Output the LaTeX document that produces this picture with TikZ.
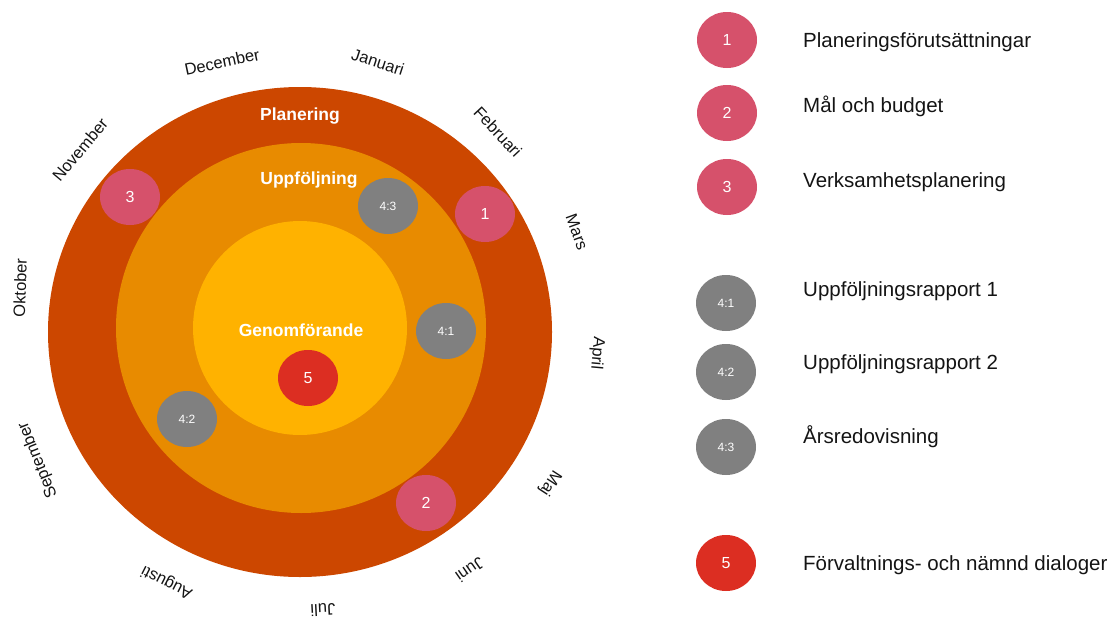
\documentclass[tikz,border=0pt]{standalone}
\usepackage{fontspec}
\setmainfont{Liberation Sans}
\usetikzlibrary{shapes.geometric}
\definecolor{cOuter}{RGB}{204,71,0}
\definecolor{cMid}{RGB}{232,139,0}
\definecolor{cInner}{RGB}{255,178,0}
\definecolor{cPink}{RGB}{214,81,107}
\definecolor{cGray}{RGB}{128,128,128}
\definecolor{cRed}{RGB}{220,46,34}
\definecolor{cText}{RGB}{20,20,20}
\tikzset{
  month/.style={inner sep=0pt, text=cText, font=\fontsize{16.5}{18}\selectfont},
  ring/.style={inner sep=0pt, text=white, font=\bfseries\fontsize{17.5}{20}\selectfont},
  dot/.style={ellipse, draw=none, minimum width=60pt, minimum height=56pt, inner sep=0pt, text=white, font=\fontsize{16}{18}\selectfont},
  pinkdot/.style={dot, fill=cPink},
  graydot/.style={dot, fill=cGray, font=\fontsize{12}{14}\selectfont},
  reddot/.style={dot, fill=cRed},
  legtext/.style={anchor=west, inner sep=0pt, text=cText, font=\fontsize{20.5}{24}\selectfont}
}
\begin{document}
\begin{tikzpicture}[x=1pt,y=-1pt]
\useasboundingbox (0,0) rectangle (1111,621);
% rings
\fill[cOuter] (300,332) ellipse [x radius=252, y radius=245];
\fill[cMid] (301,328) circle [radius=185];
\fill[cInner] (300,328) circle [radius=107];
\node[ring] (planering) at (300,116) {Planering};
\node[ring] (uppf) at (309,180) {Uppföljning};
\node[ring] (genom) at (301,330) {Genomförande};
% months
\node[month, rotate=12] (dec) at (222,62) {December};
\node[month, rotate=-18] (jan) at (378,62) {Januari};
\node[month, rotate=-47] (feb) at (498,132) {Februari};
\node[month, rotate=-70] (mar) at (577,232) {Mars};
\node[month, rotate=-95] (apr) at (597,353) {April};
\node[month, rotate=-123] (maj) at (550,483) {Maj};
\node[month, rotate=-145] (jun) at (470,570) {Juni};
\node[month, rotate=-177] (jul) at (323,610) {Juli};
\node[month, rotate=153] (aug) at (167,582) {Augusti};
\node[month, rotate=112] (sep) at (38,460) {September};
\node[month, rotate=88] (okt) at (20,288) {Oktober};
\node[month, rotate=50] (nov) at (80,150) {November};
% markers on wheel
\node[pinkdot] (m3) at (130,197) {3};
\node[pinkdot] (m1) at (485,214) {1};
\node[pinkdot] (m2) at (426,503) {2};
\node[graydot] (m43) at (388,206) {4:3};
\node[graydot] (m41) at (446,331) {4:1};
\node[graydot] (m42) at (187,419) {4:2};
\node[reddot] (m5) at (308,378) {5};
% legend
\node[pinkdot] (l1) at (727,40) {1};
\node[pinkdot] (l2) at (727,113) {2};
\node[pinkdot] (l3) at (727,187) {3};
\node[graydot] (l41) at (726,303) {4:1};
\node[graydot] (l42) at (726,372) {4:2};
\node[graydot] (l43) at (726,447) {4:3};
\node[reddot] (l5) at (726,563) {5};
\node[legtext] (t1) at (803,42) {Planeringsförutsättningar};
\node[legtext] (t2) at (803,106) {Mål och budget};
\node[legtext] (t3) at (803,182) {Verksamhetsplanering};
\node[legtext] (t41) at (803,291) {Uppföljningsrapport 1};
\node[legtext] (t42) at (803,364) {Uppföljningsrapport 2};
\node[legtext] (t43) at (803,437) {Årsredovisning};
\node[legtext] (t5) at (803,565) {Förvaltnings- och nämnd dialoger};
\end{tikzpicture}
\end{document}
